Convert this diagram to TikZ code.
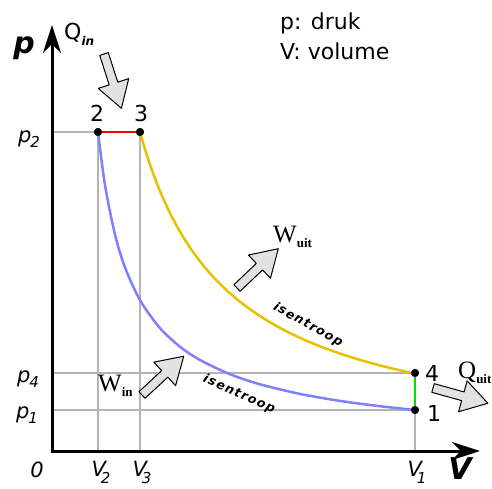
\documentclass[tikz,border=0pt]{standalone}
\usepackage{fontspec}
\setmainfont{DejaVu Sans}
\newfontfamily\wfont{Liberation Serif}
\usetikzlibrary{arrows.meta}
\definecolor{gridgray}{HTML}{B4B4B4}
\definecolor{isoblue}{HTML}{8080FF}
\definecolor{isoyellow}{HTML}{E8C000}
\definecolor{arrowgray}{HTML}{E2E2E2}
\definecolor{heatgreen}{HTML}{00E000}
\tikzset{
  lbl/.style={inner sep=0, font=\fontsize{22}{26}\selectfont},
  tick/.style={inner sep=0, font=\fontsize{21}{24}\selectfont\itshape},
  axlbl/.style={inner sep=0, font=\fontsize{30}{32}\selectfont\bfseries\itshape},
  dot/.style={circle, fill=black, inner sep=0, minimum size=8},
  gridline/.style={gridgray, line width=1.5},
  curve/.style={line width=2.5},
  isolbl/.style={inner sep=0, font=\fontsize{12.5}{13}\selectfont\bfseries\itshape\addfontfeature{LetterSpace=10}},
  wlbl/.style={inner sep=0, font=\fontsize{25}{28}\selectfont\wfont},
  fatarrow/.pic={
    \draw[fill=arrowgray, line join=round, line width=1]
      (0,-4.5) -- (31,-4.5) -- (31,-16) -- (57,0) -- (31,16) -- (31,4.5) -- (0,4.5) -- cycle;
  }
}
\begin{document}
\begin{tikzpicture}[x=1pt,y=-1pt]
\useasboundingbox (0,0) rectangle (492,488);

% axis coordinates
\coordinate (O) at (52,451);
\coordinate (ytop) at (52,25);
\coordinate (xend) at (480,451);
\coordinate (ap2) at (52,132);
\coordinate (ap4) at (52,373);
\coordinate (ap1) at (52,410);
\coordinate (av2) at (98,451);
\coordinate (av3) at (140,451);
\coordinate (av1) at (415,451);

% state points
\node[dot] (n2) at (98,132) {};
\node[dot] (n3) at (140,132) {};
\node[dot] (n4) at (415,373) {};
\node[dot] (n1) at (415,410) {};

% grid lines
\draw[gridline] (ap2) -- (n2.center);
\draw[gridline] (n2.center) -- (av2);
\draw[gridline] (n3.center) -- (av3);
\draw[gridline] (ap4) -- (n4.center);
\draw[gridline] (ap1) -- (n1.center);
\draw[gridline] (n1.center) -- (av1);

% axes
\draw[line width=3, {Stealth[length=28pt,width=18pt,inset=9pt]}-{Stealth[length=28pt,width=18pt,inset=9pt]}]
  (ytop) -- (O) -- (xend);

% process curves
\draw[curve, isoblue] plot[smooth] coordinates {(98,132) (105,185.1) (115,234.5) (125,267.3)
  (140,300.1) (160,328.1) (180,346.7) (200,360.0) (230,374.2) (260,384.3) (300,393.9)
  (340,400.9) (380,406.2) (415,410)};
\draw[curve, isoyellow, domain=140:415, samples=120] plot (\x, {451 - 319*(88/(\x-52))});
\draw[curve, red] (n2.center) -- (n3.center);
\draw[curve, heatgreen] (n4.center) -- (n1.center);

% redraw dots on top
\node[dot] at (n2) {};
\node[dot] at (n3) {};
\node[dot] at (n4) {};
\node[dot] at (n1) {};

% point labels
\node[lbl] (l2) at (97,113) {2};
\node[lbl] (l3) at (141,113) {3};
\node[lbl] (l4) at (432,373) {4};
\node[lbl] (l1) at (434,413) {1};

% legend
\node[lbl, anchor=west] (legp) at (280,23) {p: druk};
\node[lbl, anchor=west] (legv) at (280,51) {V: volume};

% axis labels
\node[axlbl] (plab) at (24,48) {p};
\node[axlbl] (vlab) at (460,469) {V};

% tick labels
\node[tick] (t0) at (37,470) {0};
\node[tick] (tp2) at (29,139) {p\kern-1pt\raisebox{-0.45ex}{\fontsize{15}{15}\selectfont 2}};
\node[tick] (tp4) at (28,379) {p\kern-1pt\raisebox{-0.45ex}{\fontsize{15}{15}\selectfont 4}};
\node[tick] (tp1) at (27,415) {p\kern-1pt\raisebox{-0.45ex}{\fontsize{15}{15}\selectfont 1}};
\node[tick] (tv2) at (101,472) {V\kern-5pt\raisebox{-0.6ex}{\fontsize{15}{15}\selectfont 2}};
\node[tick] (tv3) at (142,472) {V\kern-5pt\raisebox{-0.6ex}{\fontsize{15}{15}\selectfont 3}};
\node[tick] (tv1) at (417,472) {V\kern-5pt\raisebox{-0.6ex}{\fontsize{15}{15}\selectfont 1}};

% heat / work arrows
\pic[rotate=-72.2] at (104,54) {fatarrow};
\pic[rotate=43.6] at (237,288) {fatarrow};
\pic[rotate=42.9] at (142,395) {fatarrow};
\pic[rotate=-15.5] at (433,388) {fatarrow};

% heat / work labels
\node[lbl, anchor=west] (qin) at (64,34) {Q\raisebox{-0.5ex}{\fontsize{12}{12}\selectfont\bfseries\itshape in}};
\node[wlbl, anchor=west] (quit) at (458,373) {Q\raisebox{-0.4ex}{\fontsize{13}{13}\selectfont\bfseries uit}};
\node[wlbl, anchor=west] (wuit) at (273,237) {W\raisebox{-0.4ex}{\fontsize{13}{13}\selectfont\bfseries uit}};
\node[wlbl, anchor=west] (win) at (98,386) {W\raisebox{-0.4ex}{\fontsize{13}{13}\selectfont\bfseries in}};

% isentrope labels
\node[isolbl, rotate=-29] (isoup) at (308,325) {isentroop};
\node[isolbl, rotate=-24] (isolow) at (239,394) {isentroop};
\end{tikzpicture}
\end{document}
